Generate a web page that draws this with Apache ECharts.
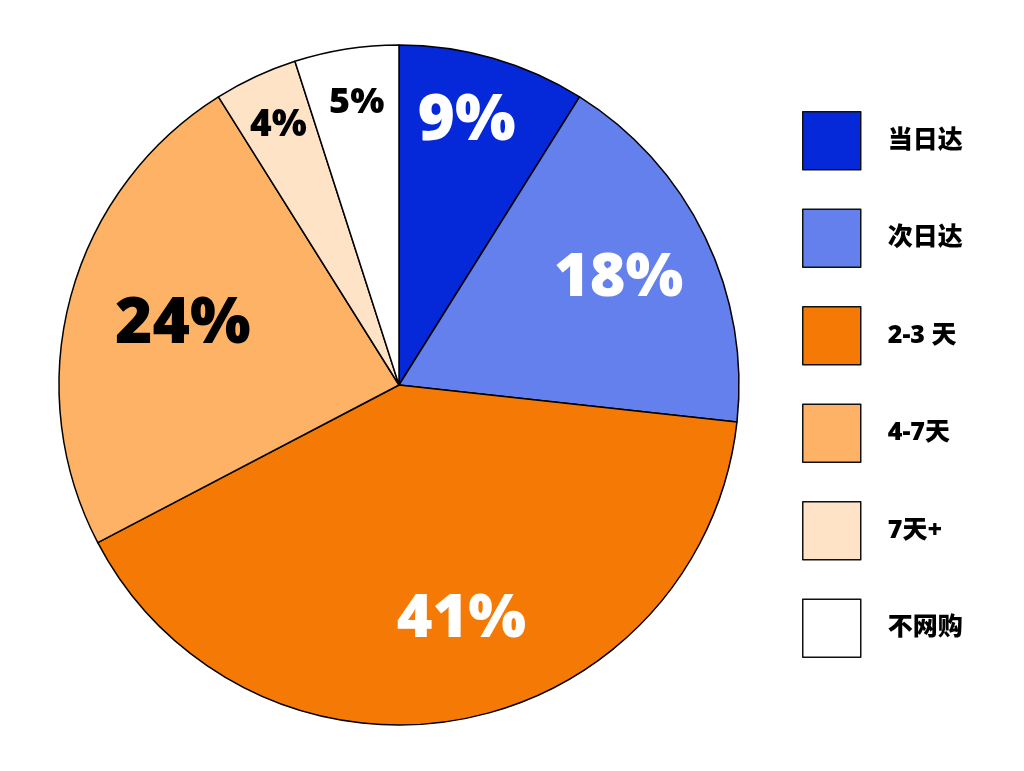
<!DOCTYPE html>
<html>
<head>
<meta charset="utf-8">
<script src="https://cdn.jsdelivr.net/npm/echarts@6/dist/echarts.min.js"></script>
<style>html,body{margin:0;padding:0;background:#fff}#c{width:1024px;height:771px}</style>
</head>
<body>
<div id="c"></div>
<script>
const categories = ['当日达', '次日达', '2-3 天', '4-7天', '7天+', '不网购'];
const values = [9, 18, 41, 24, 4, 5];
const colors = ['#0528d8', '#6380ec', '#f57a05', '#fdb265', '#fee3c7', '#ffffff'];
const labelColors = ['#ffffff', '#ffffff', '#ffffff', '#000000', '#000000', '#000000'];
const labelSizes = [64, 61, 61, 64, 37, 36];
// inner radius of the invisible label ring for each slice (label sits mid-ring)
const labelRingInner = [202, 142, 132, 112, 226, 226];
const labelShiftX = [-8, 0, 18, 5, 0, 2];

const FONT = '"Open Sans", "Noto Sans CJK SC", sans-serif';
const CENTER = [399, 385];
const R = 340;

const chart = echarts.init(document.getElementById('c'));

function labelSeries(k) {
  return {
    type: 'pie',
    center: CENTER,
    radius: [labelRingInner[k], R],
    startAngle: 90,
    clockwise: true,
    silent: true,
    legendHoverLink: false,
    animation: false,
    avoidLabelOverlap: false,
    itemStyle: { color: 'transparent', borderWidth: 0 },
    emphasis: { disabled: true },
    labelLine: { show: false },
    labelLayout: { dx: labelShiftX[k] },
    data: categories.map((name, i) => ({
      name: name,
      value: values[i],
      label: {
        show: i === k,
        position: 'inside',
        formatter: values[i] + '%',
        color: labelColors[i],
        fontSize: labelSizes[i],
        fontWeight: 800,
        fontFamily: FONT
      }
    }))
  };
}

chart.setOption({
  backgroundColor: '#ffffff',
  animation: false,
  legend: {
    orient: 'vertical',
    left: 802,
    top: 111,
    padding: 0,
    itemWidth: 58,
    itemHeight: 58,
    itemGap: 38,
    icon: 'rect',
    selectedMode: false,
    data: categories,
    itemStyle: { borderColor: '#111111', borderWidth: 1.5 },
    textStyle: {
      fontSize: 25,
      fontWeight: 900,
      fontFamily: FONT,
      color: '#000000',
      padding: [0, 0, 0, 22]
    }
  },
  series: [
    {
      type: 'pie',
      center: CENTER,
      radius: [0, R],
      startAngle: 90,
      clockwise: true,
      animation: false,
      label: { show: false },
      labelLine: { show: false },
      emphasis: { disabled: true },
      itemStyle: { borderColor: '#000000', borderWidth: 1.5 },
      data: categories.map((name, i) => ({
        name: name,
        value: values[i],
        itemStyle: { color: colors[i] }
      }))
    }
  ].concat(categories.map((_, k) => labelSeries(k)))
});
</script>
</body>
</html>
